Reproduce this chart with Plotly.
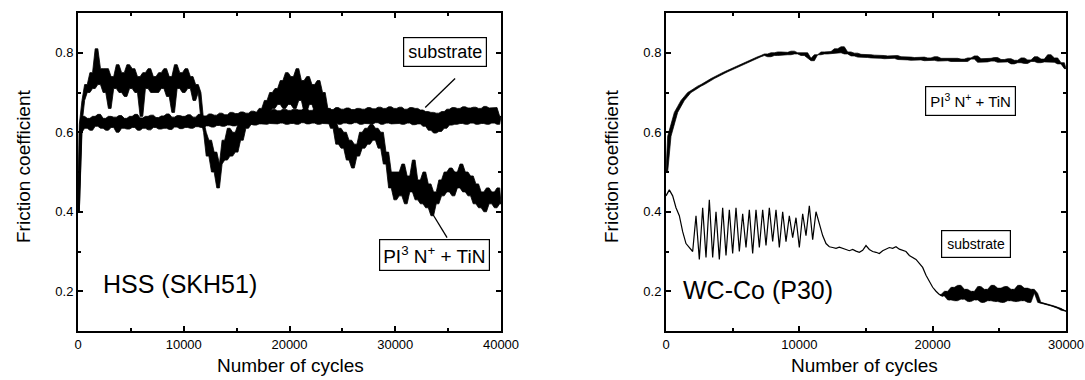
import numpy as np
import plotly.graph_objects as go

# ---------------- data ----------------
# Left panel: HSS (SKH51), sampled every 250 cycles from 0 to 40000
hss_cycles = np.arange(0, 40001, 250)
hss_substrate = [
    0.40, 0.60, 0.64, 0.61, 0.635, 0.605, 0.64, 0.615, 0.645, 0.61,
    0.635, 0.605, 0.64, 0.612, 0.638, 0.60, 0.642, 0.61, 0.635, 0.608,
    0.64, 0.612, 0.645, 0.605, 0.636, 0.61, 0.64, 0.606, 0.643, 0.612,
    0.637, 0.608, 0.641, 0.61, 0.646, 0.607, 0.638, 0.613, 0.642, 0.609,
    0.64, 0.612, 0.644, 0.61, 0.638, 0.614, 0.645, 0.612, 0.641, 0.616,
    0.646, 0.613, 0.643, 0.617, 0.648, 0.615, 0.644, 0.618, 0.65, 0.616,
    0.647, 0.619, 0.651, 0.617, 0.648, 0.62, 0.653, 0.618, 0.65, 0.621,
    0.655, 0.62, 0.652, 0.622, 0.657, 0.621, 0.654, 0.623, 0.658, 0.62,
    0.655, 0.622, 0.658, 0.62, 0.656, 0.624, 0.659, 0.621, 0.655, 0.623,
    0.658, 0.62, 0.656, 0.622, 0.66, 0.621, 0.657, 0.624, 0.662, 0.62,
    0.658, 0.623, 0.661, 0.621, 0.657, 0.624, 0.66, 0.62, 0.658, 0.622,
    0.662, 0.621, 0.659, 0.624, 0.663, 0.62, 0.66, 0.623, 0.664, 0.621,
    0.66, 0.622, 0.663, 0.62, 0.658, 0.623, 0.662, 0.619, 0.66, 0.621,
    0.656, 0.615, 0.652, 0.605, 0.65, 0.598, 0.648, 0.602, 0.652, 0.61,
    0.658, 0.618, 0.662, 0.62, 0.66, 0.622, 0.664, 0.62, 0.661, 0.623,
    0.663, 0.62, 0.66, 0.622, 0.665, 0.62, 0.661, 0.623, 0.662, 0.62, 0.64,
]
hss_coated = [
    0.40, 0.62, 0.68, 0.72, 0.70, 0.75, 0.71, 0.81, 0.72, 0.76,
    0.70, 0.76, 0.66, 0.74, 0.71, 0.77, 0.70, 0.75, 0.69, 0.77,
    0.71, 0.76, 0.70, 0.74, 0.64, 0.75, 0.71, 0.76, 0.70, 0.74,
    0.70, 0.75, 0.71, 0.76, 0.69, 0.74, 0.65, 0.77, 0.71, 0.75,
    0.70, 0.76, 0.71, 0.74, 0.68, 0.72, 0.70, 0.63, 0.60, 0.54,
    0.58, 0.50, 0.55, 0.46, 0.52, 0.58, 0.53, 0.61, 0.54, 0.60,
    0.55, 0.62, 0.58, 0.63, 0.61, 0.64, 0.62, 0.65, 0.63, 0.66,
    0.64, 0.68, 0.65, 0.70, 0.66, 0.71, 0.67, 0.73, 0.66, 0.75,
    0.67, 0.74, 0.66, 0.76, 0.68, 0.73, 0.65, 0.74, 0.67, 0.72,
    0.65, 0.73, 0.64, 0.70, 0.63, 0.66, 0.61, 0.63, 0.57, 0.61,
    0.56, 0.60, 0.53, 0.58, 0.51, 0.57, 0.54, 0.60, 0.56, 0.61,
    0.57, 0.62, 0.58, 0.61, 0.56, 0.60, 0.52, 0.55, 0.46, 0.50,
    0.43, 0.50, 0.44, 0.52, 0.42, 0.49, 0.45, 0.53, 0.43, 0.48,
    0.42, 0.50, 0.41, 0.47, 0.39, 0.45, 0.42, 0.48, 0.44, 0.50,
    0.45, 0.51, 0.44, 0.50, 0.46, 0.52, 0.45, 0.50, 0.44, 0.49,
    0.42, 0.47, 0.41, 0.45, 0.40, 0.46, 0.42, 0.45, 0.41, 0.46, 0.42,
]

# Right panel: WC-Co (P30), sampled every 250 cycles from 0 to 30000
wc_cycles = np.arange(0, 30001, 250)
wc_coated = [
    0.50, 0.59, 0.62, 0.65, 0.665, 0.68, 0.69, 0.70, 0.705, 0.711,
    0.716, 0.72, 0.726, 0.73, 0.735, 0.74, 0.743, 0.748, 0.752, 0.756,
    0.76, 0.764, 0.768, 0.772, 0.776, 0.78, 0.783, 0.787, 0.79, 0.793,
    0.797, 0.79, 0.80, 0.793, 0.802, 0.794, 0.801, 0.795, 0.804, 0.797,
    0.80, 0.793, 0.80, 0.786, 0.78, 0.795, 0.795, 0.802, 0.797, 0.803,
    0.798, 0.81, 0.80, 0.815, 0.797, 0.802, 0.792, 0.799, 0.789, 0.796,
    0.788, 0.795, 0.787, 0.794, 0.786, 0.793, 0.785, 0.792, 0.786, 0.793,
    0.783, 0.79, 0.782, 0.789, 0.781, 0.788, 0.782, 0.789, 0.78, 0.787,
    0.781, 0.79, 0.779, 0.786, 0.78, 0.785, 0.778, 0.786, 0.779, 0.784,
    0.778, 0.787, 0.784, 0.792, 0.776, 0.785, 0.777, 0.786, 0.779, 0.788,
    0.776, 0.783, 0.777, 0.785, 0.772, 0.781, 0.775, 0.787, 0.773, 0.782,
    0.778, 0.79, 0.775, 0.784, 0.777, 0.795, 0.776, 0.787, 0.772, 0.775,
    0.76,
]
wc_substrate = [
    0.44, 0.455, 0.44, 0.41, 0.39, 0.35, 0.32, 0.31, 0.30, 0.39,
    0.28, 0.41, 0.285, 0.43, 0.285, 0.40, 0.28, 0.41, 0.29, 0.405,
    0.295, 0.41, 0.30, 0.395, 0.31, 0.405, 0.295, 0.405, 0.31, 0.405,
    0.315, 0.41, 0.325, 0.405, 0.31, 0.40, 0.325, 0.39, 0.335, 0.385,
    0.31, 0.395, 0.34, 0.415, 0.33, 0.40, 0.37, 0.34, 0.32, 0.312,
    0.31, 0.308, 0.311, 0.307, 0.305, 0.302, 0.305, 0.301, 0.298, 0.303,
    0.315, 0.305, 0.30, 0.298, 0.295, 0.302, 0.305, 0.31, 0.308, 0.312,
    0.306, 0.303, 0.30, 0.29, 0.285, 0.28, 0.27, 0.26, 0.24, 0.225,
    0.21, 0.20, 0.192, 0.188, 0.20, 0.178, 0.21, 0.176, 0.215, 0.18,
    0.205, 0.174, 0.20, 0.178, 0.212, 0.172, 0.205, 0.176, 0.215, 0.174,
    0.208, 0.172, 0.212, 0.176, 0.205, 0.174, 0.215, 0.176, 0.208, 0.172,
    0.205, 0.195, 0.172, 0.17, 0.168, 0.166, 0.163, 0.16, 0.157, 0.152,
    0.15,
]
# the WC-Co substrate record turns into a dense noisy band from here on
wc_noisy_start = 20500

y_ticks = [0.2, 0.4, 0.6, 0.8]
hss_x_ticks = [0, 10000, 20000, 30000, 40000]
wc_x_ticks = [0, 10000, 20000, 30000]

# ---------------- figure ----------------
W, H = 1085, 380
FONT = "Liberation Sans, Arial, sans-serif"


def px_x(p):
    return p / W


def px_y(p):
    return 1 - p / H


def envelope(x, y):
    """Max/min of each pair of neighbouring readings (at the segment midpoints),
    so a dense noisy record is drawn as the solid band it forms in the plot."""
    x = np.asarray(x, dtype=float)
    y = np.asarray(y, dtype=float)
    xm = (x[:-1] + x[1:]) / 2
    hi = np.maximum(y[:-1], y[1:])
    lo = np.minimum(y[:-1], y[1:])
    xm = np.concatenate([[x[0]], xm, [x[-1]]])
    hi = np.concatenate([[y[0]], hi, [y[-1]]])
    lo = np.concatenate([[y[0]], lo, [y[-1]]])
    return xm, hi, lo


fig = go.Figure()


def add_band(x, y, xa, ya, width=0.8):
    xm, hi, lo = envelope(x, y)
    fig.add_trace(go.Scatter(x=xm, y=lo, mode="lines", line=dict(color="black", width=width),
                             xaxis=xa, yaxis=ya, hoverinfo="skip"))
    fig.add_trace(go.Scatter(x=xm, y=hi, mode="lines", line=dict(color="black", width=width),
                             fill="tonexty", fillcolor="black",
                             xaxis=xa, yaxis=ya, hoverinfo="skip"))


# HSS panel: both records are dense noisy bands
add_band(hss_cycles, hss_substrate, "x", "y")
add_band(hss_cycles, hss_coated, "x", "y")

# WC-Co panel
add_band(wc_cycles, wc_coated, "x2", "y2", width=0.7)
wc_x = np.asarray(wc_cycles)
wc_y = np.asarray(wc_substrate)
fig.add_trace(go.Scatter(x=wc_x, y=wc_y, mode="lines",
                         line=dict(color="black", width=1.2),
                         xaxis="x2", yaxis="y2", name="substrate"))
mask = wc_x >= wc_noisy_start
add_band(wc_x[mask], wc_y[mask], "x2", "y2", width=0.5)

axis_common = dict(showline=True, linecolor="black", linewidth=2, mirror="ticks",
                   ticks="inside", ticklen=5, tickwidth=1.5, tickcolor="black",
                   showgrid=False, zeroline=False, automargin=False,
                   tickfont=dict(family=FONT, size=13, color="black"))

ydom = [px_y(331), px_y(13)]
fig.update_layout(
    width=W, height=H, autosize=False,
    margin=dict(l=0, r=0, t=0, b=0, pad=0),
    paper_bgcolor="white", plot_bgcolor="white",
    showlegend=False,
    xaxis=dict(domain=[px_x(78), px_x(501)], range=[0, 40000], anchor="y",
               tickvals=hss_x_ticks, tickformat="d",
               minor=dict(ticks="inside", ticklen=3, dtick=5000, tickcolor="black"),
               **axis_common),
    yaxis=dict(domain=ydom, range=[0.1, 0.9], anchor="x",
               tickvals=y_ticks, tickformat=".1f",
               minor=dict(ticks="inside", ticklen=3, dtick=0.1, tickcolor="black"),
               **axis_common),
    xaxis2=dict(domain=[px_x(666), px_x(1066)], range=[0, 30000], anchor="y2",
                tickvals=wc_x_ticks, tickformat="d",
                minor=dict(ticks="inside", ticklen=3, dtick=5000, tickcolor="black"),
                **axis_common),
    yaxis2=dict(domain=ydom, range=[0.1, 0.9], anchor="x2",
                tickvals=y_ticks, tickformat=".1f",
                minor=dict(ticks="inside", ticklen=3, dtick=0.1, tickcolor="black"),
                **axis_common),
)

title_font = dict(family=FONT, size=19, color="black")
ann = []
# axis titles
for cx in (290, 864):
    ann.append(dict(text="Number of cycles", xref="paper", yref="paper",
                    x=px_x(cx), y=px_y(365), showarrow=False, font=title_font,
                    xanchor="center", yanchor="middle"))
for cx in (24, 612):
    ann.append(dict(text="Friction coefficient", xref="paper", yref="paper",
                    x=px_x(cx), y=px_y(167), showarrow=False, font=title_font,
                    textangle=-90, xanchor="center", yanchor="middle"))
# panel labels
ann.append(dict(text="HSS (SKH51)", xref="x", yref="y", x=9650, y=0.2175,
                showarrow=False, font=dict(family=FONT, size=25, color="black")))
ann.append(dict(text="WC-Co (P30)", xref="x2", yref="y2", x=6920, y=0.2025,
                showarrow=False, font=dict(family=FONT, size=25, color="black")))
# boxed labels
box = dict(showarrow=False, bordercolor="black", borderwidth=1.2, bgcolor="white")
ann.append(dict(text="substrate", xref="x", yref="y", x=34700, y=0.801,
                font=dict(family=FONT, size=18, color="black"), borderpad=4, **box))
ann.append(dict(text="PI<sup>3</sup> N<sup>+</sup> + TiN", xref="x", yref="y",
                x=33700, y=0.291, font=dict(family=FONT, size=19, color="black"),
                borderpad=3, **box))
ann.append(dict(text="PI<sup>3</sup> N<sup>+</sup> + TiN", xref="x2", yref="y2",
                x=22820, y=0.679, font=dict(family=FONT, size=15, color="black"),
                borderpad=4, **box))
ann.append(dict(text="substrate", xref="x2", yref="y2", x=23240, y=0.319,
                font=dict(family=FONT, size=14, color="black"), borderpad=5, **box))
fig.update_layout(annotations=ann)

# pointer lines
fig.add_shape(type="line", xref="x", yref="y", x0=35660, y0=0.735, x1=32830, y1=0.6625,
              line=dict(color="black", width=1.3))
fig.add_shape(type="line", xref="x", yref="y", x0=34900, y0=0.335, x1=33580, y1=0.3925,
              line=dict(color="black", width=1.3))

fig.write_html("out.html",
               config={"displayModeBar": False, "responsive": False},
               post_script="document.body.style.margin='0';document.body.style.overflow='hidden';")
